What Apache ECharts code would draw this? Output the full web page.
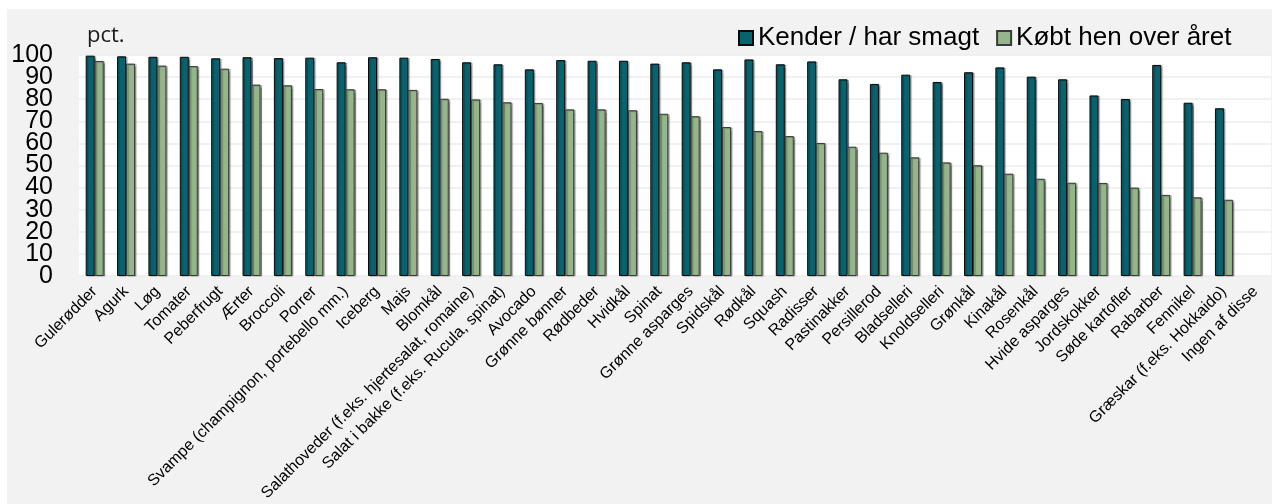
<!DOCTYPE html>
<html>
<head>
<meta charset="utf-8">
<script src="https://cdn.jsdelivr.net/npm/echarts@6/dist/echarts.min.js"></script>
<style>
  html, body { margin: 0; padding: 0; background: #ffffff; }
  #panel { position: absolute; left: 7px; top: 9px; width: 1265px; height: 495px; background: #f2f2f2; }
  #chart { position: absolute; left: 0; top: 0; width: 1272px; height: 504px; }
</style>
</head>
<body>
<div id="panel"></div>
<div id="chart"></div>
<script>
// Grøntsager: kendskab og køb (pct.)
const categories = [
  'Gulerødder', 'Agurk', 'Løg', 'Tomater', 'Peberfrugt', 'Ærter', 'Broccoli', 'Porrer',
  'Svampe (champignon, portebello mm.)', 'Iceberg', 'Majs', 'Blomkål',
  'Salathoveder (f.eks. hjertesalat, romaine)', 'Salat i bakke (f.eks. Rucula, spinat)',
  'Avocado', 'Grønne bønner', 'Rødbeder', 'Hvidkål', 'Spinat', 'Grønne asparges',
  'Spidskål', 'Rødkål', 'Squash', 'Radisser', 'Pastinakker', 'Persillerod', 'Bladselleri',
  'Knoldselleri', 'Grønkål', 'Kinakål', 'Rosenkål', 'Hvide asparges', 'Jordskokker',
  'Søde kartofler', 'Rabarber', 'Fennikel', 'Græskar (f.eks. Hokkaido)', 'Ingen af disse'
];

const kender = [
  99.7, 99.4, 99.2, 99.2, 98.5, 99.0, 98.6, 98.8, 96.7, 99.0, 98.8, 98.2,
  96.7, 95.8, 93.5, 97.7, 97.4, 97.4, 96.1, 96.7, 93.5, 98.0, 95.8, 97.1,
  89.0, 86.9, 91.1, 87.8, 92.2, 94.4, 90.2, 89.0, 81.7, 80.1, 95.5, 78.4, 75.9, 0
];

const koebt = [
  97.3, 96.1, 95.2, 95.0, 93.8, 86.6, 86.3, 84.6, 84.5, 84.5, 84.2, 80.2,
  79.9, 78.6, 78.3, 75.4, 75.4, 75.0, 73.4, 72.3, 67.4, 65.6, 63.3, 60.2,
  58.5, 55.8, 53.7, 51.4, 50.1, 46.3, 44.0, 42.2, 42.1, 40.0, 36.7, 35.6, 34.5, 0
];

// y scale 0–100 in steps of 10; labels are split over two left axes
// (even tens / odd tens) so the tightly packed labels all stay visible
const yMin = 0;
const yMax = 100;
const yStep = 10;

const FONT = '"Liberation Sans", Arial, Helvetica, sans-serif';

const chart = echarts.init(document.getElementById('chart'), null, { renderer: 'canvas' });

const barShadow = {
  shadowColor: 'rgba(0,0,0,0.35)',
  shadowBlur: 1,
  shadowOffsetX: 1.5,
  shadowOffsetY: 0.5
};

// zero values get no outline, so an empty category stays empty
function barData(values) {
  return values.map(v => v === 0
    ? { value: v, itemStyle: { borderWidth: 0, shadowColor: 'transparent' } }
    : v);
}

const yLabelBase = {
  color: '#000', margin: 26, fontSize: 25, fontFamily: FONT,
  showMinLabel: true, showMaxLabel: true
};

chart.setOption({
  backgroundColor: 'transparent',
  animation: false,
  textStyle: { fontFamily: FONT },
  grid: {
    left: 79, right: 1, top: 55, bottom: 228,
    show: true, backgroundColor: '#ffffff', borderWidth: 0
  },
  legend: {
    left: 733, top: 20,
    icon: 'rect', itemWidth: 14, itemHeight: 14, itemGap: 17,
    textStyle: { fontSize: 26, color: '#000', fontFamily: FONT },
    data: ['Kender / har smagt', 'Købt hen over året']
  },
  graphic: [{
    type: 'text', left: 87, top: 25,
    style: { text: 'pct.', fontSize: 22, fill: '#1a1a1a', fontFamily: '"Open Sans", "Noto Sans", sans-serif' }
  }],
  xAxis: {
    type: 'category',
    data: categories,
    boundaryGap: true,
    axisLine: { show: false },
    axisTick: { show: false },
    axisLabel: {
      interval: 0, rotate: 45, margin: 13,
      fontSize: 16, color: '#000', fontFamily: FONT
    }
  },
  yAxis: [
    {
      type: 'value', position: 'left',
      min: yMin, max: yMax, interval: yStep * 2,
      axisLine: { show: false },
      axisTick: { show: false },
      axisLabel: yLabelBase,
      splitLine: { show: false }
    },
    {
      type: 'value', position: 'left',
      min: yMin, max: yMax, interval: yStep,
      axisLine: { show: false },
      axisTick: { show: false },
      axisLabel: Object.assign({}, yLabelBase, {
        formatter: v => (v / yStep) % 2 === 1 ? String(v) : ''
      }),
      splitLine: { lineStyle: { color: '#ececec', width: 1.5 } }
    }
  ],
  series: [
    {
      name: 'Kender / har smagt', type: 'bar', data: barData(kender),
      barWidth: 9, barGap: '0%', yAxisIndex: 0,
      itemStyle: Object.assign({ color: '#09636f', borderColor: '#0a0a0a', borderWidth: 1 }, barShadow)
    },
    {
      name: 'Købt hen over året', type: 'bar', data: barData(koebt),
      barWidth: 9, barGap: '0%', yAxisIndex: 0,
      itemStyle: Object.assign({ color: '#95b58b', borderColor: '#3a3a3a', borderWidth: 1 }, barShadow)
    }
  ]
});
</script>
</body>
</html>
